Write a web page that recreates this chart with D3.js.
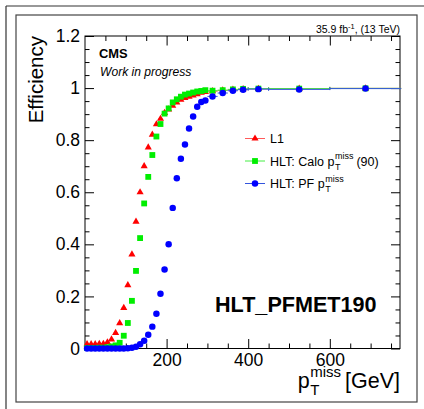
<!DOCTYPE html>
<html>
<head>
<meta charset="utf-8">
<script src="https://cdn.jsdelivr.net/npm/d3@7"></script>
<style>
  body { margin: 0; background: #fff; }
  svg { display: block; }
  text { font-family: "Liberation Sans", Arial, Helvetica, sans-serif; fill: #000; }
</style>
</head>
<body>
<svg id="chart" width="424" height="409"></svg>
<script>
// bin edges of the met histogram (GeV)
var binEdges = [0, 10, 20, 30, 40, 50, 60, 70, 80, 90, 100, 110, 120, 130, 140, 150,
  160, 170, 180, 190, 200, 210, 220, 230, 240, 250, 260, 270, 280, 290, 300,
  325, 350, 375, 400, 450, 600, 775];

// efficiencies read per bin
var l1Eff = [0.017, 0.017, 0.017, 0.018, 0.018, 0.024, 0.035, 0.06, 0.097, 0.156,
  0.243, 0.361, 0.487, 0.60, 0.70, 0.772, 0.821, 0.861, 0.882, 0.905,
  0.918, 0.932, 0.945, 0.955, 0.962, 0.967, 0.972, 0.977, 0.982, 0.985,
  0.988, 0.991, 0.994, 0.996, 0.997, 0.998, 0.999];
var caloEff = [0.002, 0.002, 0.002, 0.003, 0.003, 0.005, 0.008, 0.012, 0.022, 0.049,
  0.098, 0.183, 0.298, 0.424, 0.557, 0.659, 0.743, 0.814, 0.862, 0.902,
  0.922, 0.945, 0.957, 0.967, 0.975, 0.979, 0.983, 0.987, 0.989, 0.992,
  0.990, 0.992, 0.995, 0.997, 0.998, 0.998, 0.999];
var pfEff = [0, 0, 0, 0, 0, 0, 0, 0, 0, 0,
  0.001, 0.003, 0.007, 0.016, 0.03, 0.053, 0.084, 0.133, 0.21, 0.303,
  0.40, 0.54, 0.654, 0.729, 0.783, 0.845, 0.891, 0.928, 0.947, 0.952,
  0.968, 0.981, 0.99, 0.994, 0.996, 0.995, 0.998];

var xTickValues = [200, 400, 600];
var yTickValues = [0, 0.2, 0.4, 0.6, 0.8, 1, 1.2];
var seriesNames = ["L1", "HLT: Calo p", "HLT: PF p"];

var svg = d3.select("#chart");
var padL = 85, padR = 400, padT = 36, padB = 348.5;

var x = d3.scaleLinear().domain([0, 772]).range([padL, padR]);
var y = d3.scaleLinear().domain([0, 1.2]).range([padB, padT]);

// canvas frames
svg.append("line").attr("x1", 6).attr("y1", 6).attr("x2", 424).attr("y2", 6)
  .attr("stroke", "#333").attr("stroke-width", 1.2);
svg.append("line").attr("x1", 6).attr("y1", 6).attr("x2", 6).attr("y2", 409)
  .attr("stroke", "#333").attr("stroke-width", 1.2);
svg.append("rect").attr("x", 16).attr("y", 15).attr("width", 401).attr("height", 387)
  .attr("fill", "none").attr("stroke", "#444").attr("stroke-width", 1.2);

// axes with ROOT style inward ticks
var yMinor = d3.range(0, 1.2001, 0.05).filter(function (v) { return Math.abs(v * 5 - Math.round(v * 5)) > 1e-6; });
var xMinor = d3.range(50, 772, 50).filter(function (v) { return v % 200 !== 0; });

function styleAxis(g) {
  g.select(".domain").remove();
  g.selectAll("line").attr("stroke", "#000");
  g.selectAll("text").style("font-size", "17.5px").attr("fill", "#000");
}

svg.append("g").attr("transform", "translate(" + padL + ",0)")
  .call(d3.axisLeft(y).tickValues(yTickValues).tickSize(-9).tickPadding(5).tickFormat(d3.format("~g")))
  .call(styleAxis);
svg.append("g").attr("transform", "translate(" + padL + ",0)")
  .call(d3.axisLeft(y).tickValues(yMinor).tickSize(-4.5).tickFormat(""))
  .call(styleAxis);
svg.append("g").attr("transform", "translate(" + padR + ",0)")
  .call(d3.axisRight(y).tickValues(yTickValues).tickSize(-9).tickFormat(""))
  .call(styleAxis);
svg.append("g").attr("transform", "translate(" + padR + ",0)")
  .call(d3.axisRight(y).tickValues(yMinor).tickSize(-4.5).tickFormat(""))
  .call(styleAxis);

svg.append("g").attr("transform", "translate(0," + padB + ")")
  .call(d3.axisBottom(x).tickValues(xTickValues).tickSize(-9.5).tickPadding(5))
  .call(styleAxis);
svg.append("g").attr("transform", "translate(0," + padB + ")")
  .call(d3.axisBottom(x).tickValues(xMinor).tickSize(-5).tickFormat(""))
  .call(styleAxis);
svg.append("g").attr("transform", "translate(0," + padT + ")")
  .call(d3.axisTop(x).tickValues(xTickValues).tickSize(-9.5).tickFormat(""))
  .call(styleAxis);
svg.append("g").attr("transform", "translate(0," + padT + ")")
  .call(d3.axisTop(x).tickValues(xMinor).tickSize(-5).tickFormat(""))
  .call(styleAxis);

svg.append("rect").attr("x", padL).attr("y", padT).attr("width", padR - padL).attr("height", padB - padT)
  .attr("fill", "none").attr("stroke", "#000").attr("stroke-width", 1);

// data
function makeSeries(vals) {
  return vals.map(function (v, i) {
    return { lo: binEdges[i], hi: binEdges[i + 1], c: (binEdges[i] + binEdges[i + 1]) / 2, v: v };
  });
}

var series = [
  { data: makeSeries(l1Eff), color: "#ff0000", line: "#ff5a5a", shape: d3.symbolTriangle, size: 22 },
  { data: makeSeries(caloEff), color: "#00ee00", line: "#44ee44", shape: d3.symbolSquare, size: 34 },
  { data: makeSeries(pfEff), color: "#0000ff", line: "#3355dd", shape: d3.symbolCircle, size: 33 }
];

series.forEach(function (s) {
  var g = svg.append("g");
  g.selectAll("line.err").data(s.data).enter().append("line")
    .attr("x1", function (d) { return x(d.lo); })
    .attr("x2", function (d) { return x(d.hi); })
    .attr("y1", function (d) { return y(d.v); })
    .attr("y2", function (d) { return y(d.v); })
    .attr("stroke", s.line).attr("stroke-width", 1);
  var wide = s.data.filter(function (d) { return d.hi - d.lo > 30; });
  g.selectAll("line.cap").data(wide).enter().append("line")
    .attr("x1", function (d) { return x(d.lo); })
    .attr("x2", function (d) { return x(d.lo); })
    .attr("y1", function (d) { return y(d.v) - 1.5; })
    .attr("y2", function (d) { return y(d.v) + 1.5; })
    .attr("stroke", s.line).attr("stroke-width", 1);
  g.selectAll("path").data(s.data).enter().append("path")
    .attr("d", d3.symbol().type(s.shape).size(s.size))
    .attr("transform", function (d) { return "translate(" + x(d.c) + "," + y(d.v) + ")"; })
    .attr("fill", s.color);
});

// p_T^miss with stacked sub/superscript
function pTmiss(g, px, py, size, supSize, subSize, prefix) {
  var t = g.append("text").attr("x", px).attr("y", py).style("font-size", size + "px").text(prefix);
  var w = t.node().getComputedTextLength();
  var sup = g.append("text").attr("x", px + w + 0.5).attr("y", py - size * 0.5)
    .style("font-size", supSize + "px").text("miss");
  var sub = g.append("text").attr("x", px + w + 0.5).attr("y", py + size * 0.32)
    .style("font-size", subSize + "px").text("T");
  return px + w + 0.5 + Math.max(sup.node().getComputedTextLength(), sub.node().getComputedTextLength());
}

// legend
var legY = [138.5, 161, 183.5];
series.forEach(function (s, i) {
  svg.append("line").attr("x1", 245).attr("x2", 265).attr("y1", legY[i]).attr("y2", legY[i])
    .attr("stroke", s.line).attr("stroke-width", 1);
  svg.append("path").attr("d", d3.symbol().type(s.shape).size(s.size)())
    .attr("transform", "translate(255," + legY[i] + ")").attr("fill", s.color);
});
svg.append("text").attr("x", 270).attr("y", legY[0] + 4.5).style("font-size", "12.5px").text(seriesNames[0]);
var endCalo = pTmiss(svg, 270, legY[1] + 4.5, 12.5, 9, 9, seriesNames[1]);
svg.append("text").attr("x", endCalo + 3).attr("y", legY[1] + 4.5).style("font-size", "12.5px").text("(90)");
pTmiss(svg, 270, legY[2] + 4.5, 12.5, 9, 9, seriesNames[2]);

// labels
svg.append("text").attr("transform", "translate(43," + padT + ") rotate(-90)")
  .attr("text-anchor", "end").style("font-size", "20.5px").text("Efficiency");

var xt = svg.append("g");
var xEnd = pTmiss(xt, 0, 388, 21.5, 15, 15, "p");
xt.append("text").attr("x", xEnd + 4).attr("y", 388).style("font-size", "21.5px").text("[GeV]");
var bw = xt.node().getBBox();
xt.attr("transform", "translate(" + (padR - (bw.x + bw.width)) + ",0)");

var lumi = svg.append("text").attr("x", padR).attr("y", 33).attr("text-anchor", "end").style("font-size", "10.5px");
lumi.append("tspan").text("35.9 fb");
lumi.append("tspan").attr("dy", -4).style("font-size", "7.5px").text("-1");
lumi.append("tspan").attr("dy", 4).text(", (13 TeV)");

svg.append("text").attr("x", 99).attr("y", 58.3).style("font-size", "12.9px").style("font-weight", "bold").text("CMS");
svg.append("text").attr("x", 100).attr("y", 76).style("font-size", "12.1px").style("font-style", "italic")
  .attr("fill", "#222").text("Work in progress");
svg.append("text").attr("x", 215).attr("y", 312).style("font-size", "21.6px").style("font-weight", "bold").text("HLT_PFMET190");
</script>
</body>
</html>
